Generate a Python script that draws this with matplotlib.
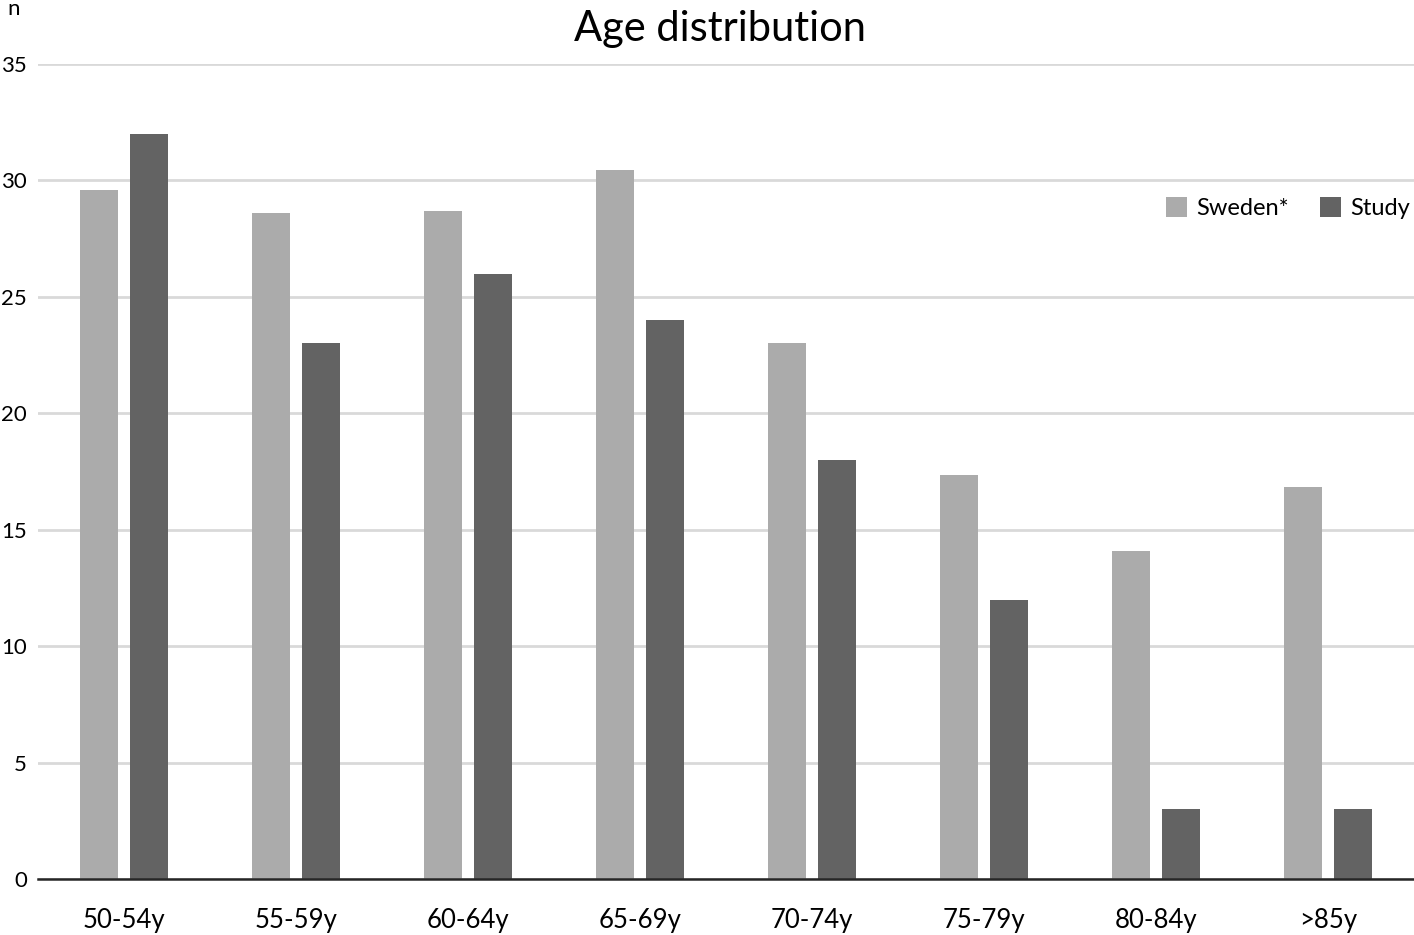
import matplotlib
matplotlib.use("Agg")
import matplotlib.pyplot as plt
import numpy as np

plt.rcParams['font.family'] = ['Lato', 'DejaVu Sans']

categories = ["50-54y", "55-59y", "60-64y", "65-69y", "70-74y", "75-79y", "80-84y", ">85y"]
sweden = [29.6, 28.6, 28.7, 30.45, 23.0, 17.35, 14.1, 16.85]
study = [32, 23, 26, 24, 18, 12, 3, 3]

W, H = 1414, 935
fig = plt.figure(figsize=(W / 100, H / 100), dpi=100)
ax = fig.add_axes([38 / W, (H - 879) / H, 1376 / W, 815 / H])

x = np.arange(len(categories))
bw = 0.22
off = 0.145
ax.bar(x - off, sweden, bw, color="#ababab", label="Sweden*", zorder=3)
ax.bar(x + off, study, bw, color="#636363", label="Study", zorder=3)

ax.set_xlim(-0.5, len(categories) - 0.5)
ax.set_ylim(0, 35)
ax.set_yticks(np.arange(0, 36, 5))
ax.yaxis.grid(True, color="#d9d9d9", linewidth=2, zorder=0)
ax.set_axisbelow(True)
for s in ["top", "right", "left"]:
    ax.spines[s].set_visible(False)
ax.spines["bottom"].set_color("#262626")
ax.spines["bottom"].set_linewidth(1.8)
ax.spines["bottom"].set_zorder(4)
ax.set_xticks(x)
ax.set_xticklabels(categories, fontsize=18.5)
ax.tick_params(axis="x", length=0, pad=21)
ax.tick_params(axis="y", length=0, labelsize=16, pad=8)

fig.text(720 / W, 1 - 29 / H, "Age distribution", ha="center", va="center", fontsize=30)
fig.text(14 / W, 1 - 9 / H, "n", ha="center", va="center", fontsize=16)

leg = ax.legend(loc="center right", bbox_to_anchor=(1410 / W, 1 - 208 / H),
                bbox_transform=fig.transFigure, ncol=2, frameon=False,
                fontsize=17, handlelength=0.9, handleheight=0.9,
                handletextpad=0.4, columnspacing=1.3, borderaxespad=0.0,
                borderpad=0.0)

fig.savefig("out.png", dpi=100)
